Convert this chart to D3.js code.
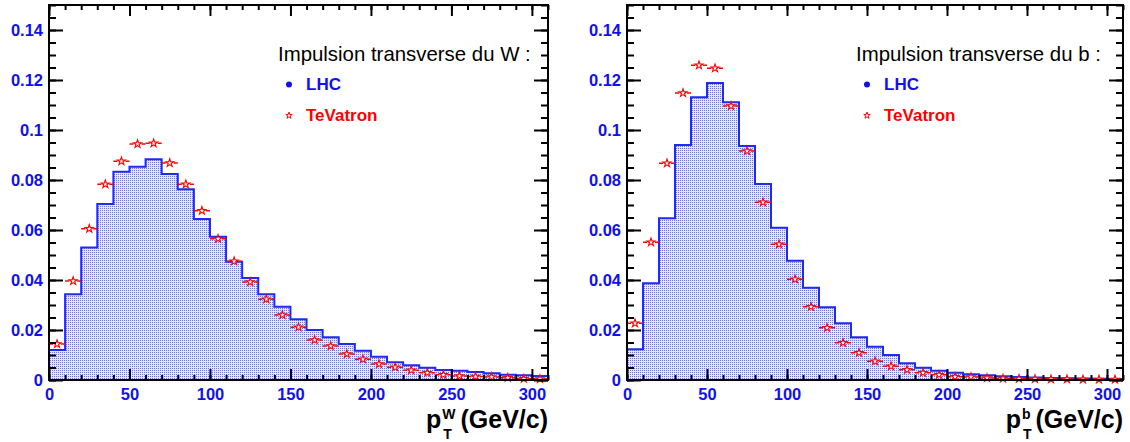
<!DOCTYPE html>
<html>
<head>
<meta charset="utf-8">
<script src="https://d3js.org/d3.v7.min.js"></script>
<style>
  body { margin: 0; background: #fff; }
  svg text { font-family: "Liberation Sans", Arial, sans-serif; }
</style>
</head>
<body>
<script>
// bin lower edges (GeV/c), width 10
var binStarts = [0,10,20,30,40,50,60,70,80,90,100,110,120,130,140,150,160,170,180,190,200,210,220,230,240,250,260,270,280,290,300];
var binWidth = 10;

// W transverse momentum
var wLHC = [0.012,0.0343,0.053,0.0704,0.0833,0.0853,0.0883,0.0824,0.0763,0.0644,0.0573,0.0473,0.0408,0.0343,0.0293,0.0243,0.020,0.0171,0.0144,0.0117,0.0093,0.0071,0.0059,0.0049,0.004,0.0037,0.0032,0.0027,0.0021,0.0019,0.0016];
var wTev = [0.0144,0.0396,0.0605,0.0783,0.0875,0.0944,0.0947,0.0868,0.0783,0.0677,0.0565,0.0475,0.0392,0.0323,0.026,0.0211,0.016,0.0136,0.0104,0.0083,0.0064,0.0051,0.0039,0.0029,0.0021,0.0016,0.0014,0.0012,0.0009,0.0005,0.0004];

// b transverse momentum
var bLHC = [0.0123,0.0387,0.0647,0.094,0.1131,0.1188,0.1111,0.0936,0.0784,0.0609,0.0477,0.0369,0.0291,0.0227,0.0171,0.0133,0.010,0.0067,0.0049,0.0037,0.0029,0.0023,0.0019,0.0015,0.0012,0.001,0.0008,0.0007,0.0006,0.0005,0.0004];
var bTev = [0.0227,0.0551,0.0867,0.1148,0.1259,0.1247,0.1096,0.0916,0.0711,0.0543,0.0403,0.0293,0.0209,0.0149,0.0109,0.0075,0.0055,0.0041,0.0029,0.0021,0.0013,0.0012,0.0008,0.0006,0.0005,0.0004,0.0003,0.0003,0.0002,0.0002,0.0002];

var xTicks = [0,50,100,150,200,250,300];
var yTicks = [0,0.02,0.04,0.06,0.08,0.1,0.12,0.14];
var seriesNames = ["LHC", "TeVatron"];

var svg = d3.select("body").append("svg")
  .attr("width", 1130)
  .attr("height", 442);

// dotted fill like ROOT style 3001
var pat = svg.append("defs").append("pattern")
  .attr("id", "dots")
  .attr("width", 2).attr("height", 2)
  .attr("patternUnits", "userSpaceOnUse");
pat.append("rect").attr("width", 2).attr("height", 2).attr("fill", "#e4e7fb");
pat.append("rect").attr("width", 1).attr("height", 1).attr("fill", "#6a74ee");

var starPath = d3.symbol().type(d3.symbolStar).size(20)();

function panel(left, right, lhc, tev, title, sup) {
  var top = 5, bottom = 380;
  var x = d3.scaleLinear().domain([0, 310]).range([left, right]);
  var y = d3.scaleLinear().domain([0, 0.15]).range([bottom, top]);
  var g = svg.append("g");

  // histogram (LHC)
  var pts = [[x(0), y(0)]];
  lhc.forEach(function(v, i) {
    pts.push([x(binStarts[i]), y(v)]);
    pts.push([x(binStarts[i] + binWidth), y(v)]);
  });
  pts.push([x(310), y(0)]);
  g.append("path")
    .attr("d", d3.line()(pts) + "Z")
    .attr("fill", "url(#dots)")
    .attr("stroke", "#1f2bf5")
    .attr("stroke-width", 2)
    .attr("stroke-linejoin", "miter");

  // TeVatron points with horizontal bars
  var pt = g.selectAll("g.pt").data(tev).enter().append("g")
    .attr("transform", function(d, i) {
      return "translate(" + x(binStarts[i] + binWidth / 2) + "," + y(d) + ")";
    });
  var half = x(binWidth / 2) - x(0);
  pt.append("line").attr("x1", -half).attr("x2", -4).attr("stroke", "red").attr("stroke-width", 1.5);
  pt.append("line").attr("x1", 4).attr("x2", half).attr("stroke", "red").attr("stroke-width", 1.5);
  pt.append("path").attr("d", starPath).attr("fill", "white")
    .attr("stroke", "red").attr("stroke-width", 1.1);

  // axes with inward ticks (ROOT style)
  function ticks(axis, tr, vals, size) {
    var a = g.append("g").attr("transform", tr)
      .call(axis.tickValues(vals).tickSize(size).tickFormat(""));
    a.select(".domain").remove();
    a.selectAll("line").attr("stroke", "black").attr("stroke-width", 2);
  }
  var xMinor = binStarts.concat([310]);
  var yMinor = d3.range(0, 0.1501, 0.005);
  ticks(d3.axisTop(x), "translate(0," + bottom + ")", xTicks, 11);
  ticks(d3.axisTop(x), "translate(0," + bottom + ")", xMinor, 5);
  ticks(d3.axisBottom(x), "translate(0," + top + ")", xTicks, 11);
  ticks(d3.axisBottom(x), "translate(0," + top + ")", xMinor, 5);
  ticks(d3.axisRight(y), "translate(" + left + ",0)", yTicks, 14);
  ticks(d3.axisRight(y), "translate(" + left + ",0)", yMinor, 7);
  ticks(d3.axisLeft(y), "translate(" + right + ",0)", yTicks, 14);
  ticks(d3.axisLeft(y), "translate(" + right + ",0)", yMinor, 7);

  g.append("rect")
    .attr("x", left).attr("y", top)
    .attr("width", right - left).attr("height", bottom - top)
    .attr("fill", "none").attr("stroke", "black").attr("stroke-width", 2);

  // tick labels
  var xl = g.append("g").attr("transform", "translate(0," + bottom + ")")
    .call(d3.axisBottom(x).tickValues(xTicks).tickSize(0).tickPadding(8).tickFormat(d3.format("d")));
  var yl = g.append("g").attr("transform", "translate(" + left + ",0)")
    .call(d3.axisLeft(y).tickValues(yTicks).tickSize(0).tickPadding(6)
      .tickFormat(function(d) { return String(+d.toFixed(2)); }));
  [xl, yl].forEach(function(a) {
    a.select(".domain").remove();
    a.selectAll("text").attr("fill", "#1010f0")
      .style("font-size", "16.5px").style("font-weight", "bold")
      .style("font-family", "'Liberation Sans', Arial, sans-serif");
  });

  // legend
  var lx = left + 229;
  g.append("text").attr("x", lx).attr("y", 61)
    .attr("font-size", 20.4).attr("fill", "black").text(title);
  g.append("circle").attr("cx", lx + 11).attr("cy", 84.5).attr("r", 3).attr("fill", "#1010f0");
  g.append("text").attr("x", lx + 28).attr("y", 90)
    .attr("font-size", 17).attr("font-weight", "bold").attr("fill", "#1010f0").text(seriesNames[0]);
  g.append("path").attr("d", d3.symbol().type(d3.symbolStar).size(13)())
    .attr("transform", "translate(" + (lx + 11) + ",115.5)")
    .attr("fill", "white").attr("stroke", "red").attr("stroke-width", 1);
  g.append("text").attr("x", lx + 28).attr("y", 121)
    .attr("font-size", 17).attr("font-weight", "bold").attr("fill", "red").text(seriesNames[1]);

  // axis title: p_T^sup (GeV/c)
  var tt = g.append("text").attr("x", right).attr("y", 428)
    .attr("text-anchor", "end").attr("font-size", 25).attr("font-weight", "bold")
    .text("(GeV/c)");
  var parenStart = right - tt.node().getComputedTextLength();
  var st = g.append("text").attr("y", 419)
    .attr("font-size", 14).attr("font-weight", "bold").text(sup);
  var tb = g.append("text").attr("y", 439)
    .attr("font-size", 14).attr("font-weight", "bold").text("T");
  var subW = Math.max(st.node().getComputedTextLength(), tb.node().getComputedTextLength());
  var supStart = parenStart - subW - 5;
  st.attr("x", supStart);
  tb.attr("x", supStart + 1);
  g.append("text").attr("x", supStart - 1).attr("y", 428)
    .attr("text-anchor", "end").attr("font-size", 25).attr("font-weight", "bold").text("p");
}

panel(49, 548, wLHC, wTev, "Impulsion transverse du W :", "W");
panel(627, 1123, bLHC, bTev, "Impulsion transverse du b :", "b");
</script>
</body>
</html>
